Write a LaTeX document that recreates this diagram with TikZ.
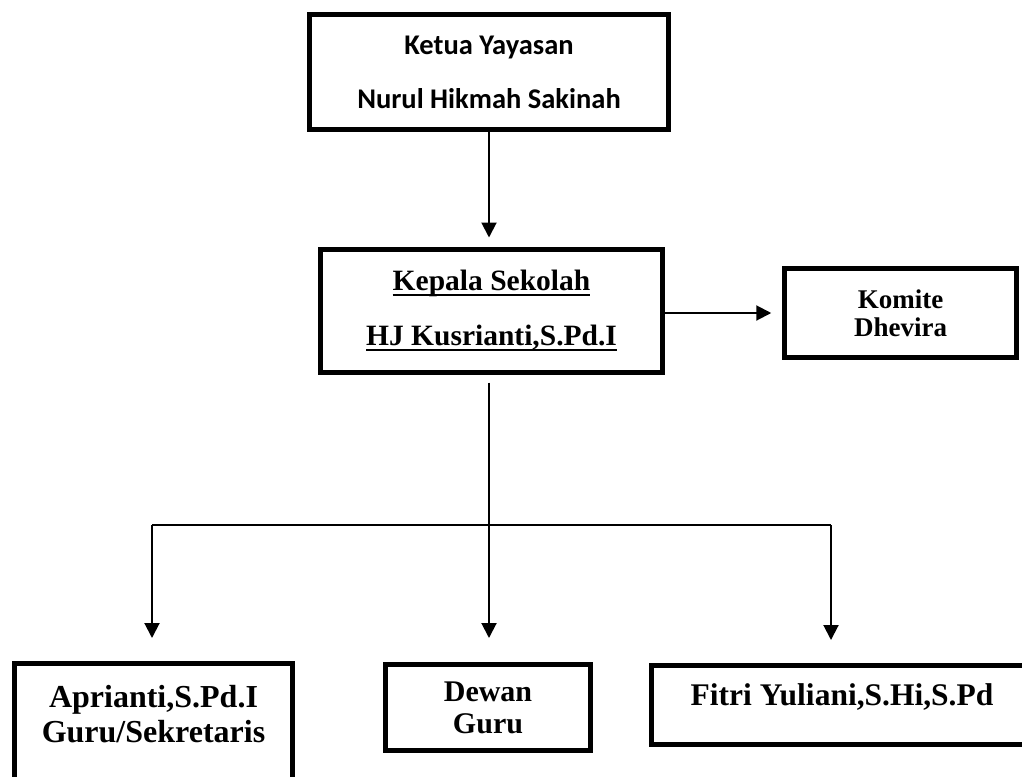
\documentclass[tikz,border=0pt]{standalone}
\usepackage{fontspec}
\setmainfont{Liberation Serif}
\newfontfamily\calib{Carlito}
\usetikzlibrary{arrows.meta}
\newcommand{\gbawah}[1]{\setbox0\hbox{#1}\leavevmode\rlap{\rule[-6pt]{\wd0}{2.5pt}}\box0}
\tikzset{
	kotak/.style={draw, line width=5pt, inner sep=0pt, align=center, font=\bfseries},
	panah/.style={-{Triangle[width=15pt,length=15pt]}, line width=2pt},
	garis/.style={line width=2pt}
}

\begin{document}
\begin{tikzpicture}[x=1pt,y=-1pt]
	\useasboundingbox (0,0) rectangle (1022,776);
	\node[kotak, minimum width=359pt, minimum height=115pt,
		font=\calib\bfseries\fontsize{28.5}{54}\selectfont] (ketua) at (489,72)
		{Ketua Yayasan\\Nurul Hikmah Sakinah};
	\node[kotak, minimum width=342pt, minimum height=123pt,
		font=\bfseries\fontsize{29.5}{55}\selectfont] (kepala) at (491.5,310.5)
		{\gbawah{Kepala Sekolah}\\\gbawah{HJ Kusrianti,S.Pd.I}};
	\node[kotak, line width=4.5pt, minimum width=232pt, minimum height=89pt,
		font=\bfseries\fontsize{27}{28}\selectfont] (komite) at (900.5,313)
		{Komite\\Dhevira};
	\node[kotak, minimum width=278pt, minimum height=134pt, text depth=34pt,
		font=\bfseries\fontsize{32}{35}\selectfont] (apri) at (153.5,730.5)
		{Aprianti,S.Pd.I\\Guru/Sekretaris};
	\node[kotak, minimum width=205pt, minimum height=86pt,
		font=\bfseries\fontsize{30}{32}\selectfont] (dewan) at (488,707.5)
		{Dewan\\Guru};
	\node[kotak, minimum width=381pt, minimum height=79pt,
		text height=21pt, text depth=21pt,
		font=\bfseries\fontsize{31.5}{34}\selectfont] (fitri) at (842,705)
		{Fitri Yuliani,S.Hi,S.Pd};
	% cabang ke bawah
	\coordinate (cabang) at (489,525);
	\coordinate (ki) at (152,525);
	\coordinate (ka) at (831,525);
	\path[panah]
	(ketua.south) edge[shorten >=9pt] (ketua.south |- kepala.north)
	(kepala.east |- komite) edge[shorten >=11pt] (komite.west)
	(ki) edge[shorten >=23pt] (ki |- apri.north)
	(cabang) edge[shorten >=24pt] (cabang |- dewan.north)
	(ka) edge[shorten >=23pt] (ka |- fitri.north);
	\draw[garis, shorten <=8pt] (kepala.south -| cabang) -- (cabang);
	\draw[garis] (ki) -- (ka);
\end{tikzpicture}
\end{document}
